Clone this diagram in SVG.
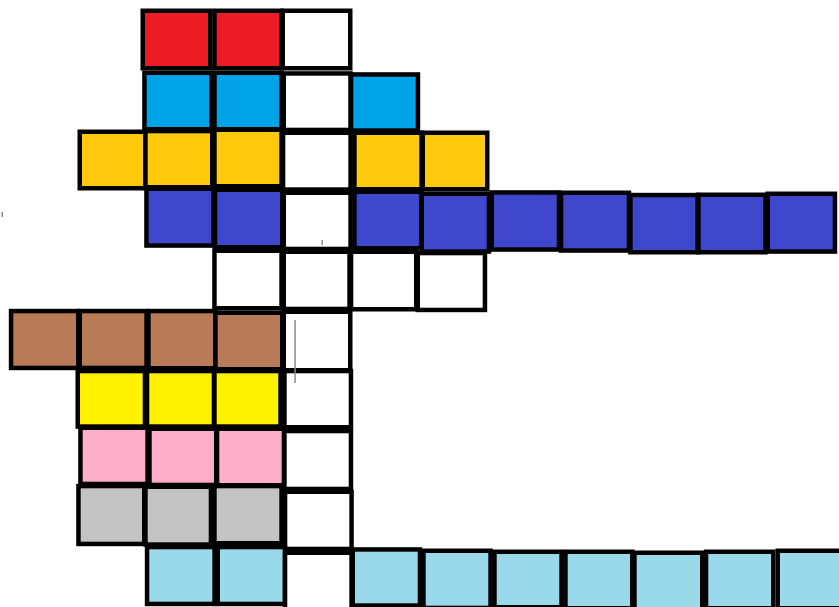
<svg xmlns="http://www.w3.org/2000/svg" width="839" height="607" viewBox="0 0 839 607">
<style>
rect.c{stroke:#000;stroke-width:4.5}
.r{fill:#ED1C24}.b{fill:#00A2E8}.o{fill:#FFC90E}.i{fill:#3F48CC}.w{fill:#FFFFFF}.br{fill:#B97A57}.y{fill:#FFF200}.p{fill:#FFAEC9}.g{fill:#C3C3C3}.lb{fill:#99D9EA}
.mark{fill:#8a8a8a}
</style>
<rect width="839" height="607" fill="#fff"/>
<g id="row1">
<g id="r1c1"><rect class="c r" x="142.75" y="10.75" width="67.5" height="57.5"/></g>
<g id="r1c2"><rect class="c r" x="214.45" y="10.75" width="66.8" height="57.5"/></g>
<g id="r1c3"><rect class="c w" x="282.75" y="10.75" width="67.5" height="57.5"/></g>
</g>
<g id="row2">
<g id="r2c1"><rect class="c b" x="144.45" y="72.75" width="67.1" height="56.5"/></g>
<g id="r2c2"><rect class="c b" x="214.45" y="72.75" width="67.1" height="56.5"/></g>
<g id="r2c3"><rect class="c w" x="283.75" y="73.45" width="66.8" height="56.5"/></g>
<g id="r2c4"><rect class="c b" x="351.05" y="74.45" width="66.9" height="56.1"/></g>
</g>
<g id="row3">
<g id="r3c1"><rect class="c o" x="79.75" y="131.75" width="65.8" height="56.5"/></g>
<g id="r3c2"><rect class="c o" x="145.45" y="131.05" width="66.8" height="56.2"/></g>
<g id="r3c3"><rect class="c o" x="214.45" y="129.75" width="67.1" height="56.5"/></g>
<g id="r3c4"><rect class="c w" x="283.05" y="132.75" width="67.5" height="56.8"/></g>
<g id="r3c5"><rect class="c o" x="354.45" y="132.75" width="67.1" height="56.5"/></g>
<g id="r3c6"><rect class="c o" x="422.75" y="132.75" width="64.5" height="56.5"/></g>
</g>
<g id="row4">
<g id="r4c1"><rect class="c i" x="146.45" y="188.75" width="67.1" height="56.8"/></g>
<g id="r4c2"><rect class="c i" x="215.05" y="189.75" width="67.2" height="57.5"/></g>
<g id="r4c3"><rect class="c w" x="283.75" y="192.75" width="66.8" height="56.2"/></g>
<g id="r4c4"><rect class="c i" x="354.45" y="191.75" width="67.1" height="56.5"/></g>
<g id="r4c5"><rect class="c i" x="421.75" y="193.75" width="67.2" height="57.8"/></g>
<g id="r4c6"><rect class="c i" x="491.75" y="192.45" width="67.2" height="57.1"/></g>
<g id="r4c7"><rect class="c i" x="561.05" y="192.75" width="67.9" height="57.8"/></g>
<g id="r4c8"><rect class="c i" x="630.45" y="195.05" width="67.1" height="57.2"/></g>
<g id="r4c9"><rect class="c i" x="698.45" y="194.75" width="67.1" height="57.5"/></g>
<g id="r4c10"><rect class="c i" x="767.75" y="193.75" width="67.2" height="57.8"/></g>
</g>
<g id="row5">
<g id="r5c1"><rect class="c w" x="214.45" y="250.75" width="67.1" height="57.5"/></g>
<g id="r5c2"><rect class="c w" x="283.75" y="251.75" width="65.8" height="57.2"/></g>
<g id="r5c3"><rect class="c w" x="351.05" y="251.75" width="65.2" height="57.5"/></g>
<g id="r5c4"><rect class="c w" x="417.75" y="253.05" width="67.2" height="56.9"/></g>
</g>
<g id="row6">
<g id="r6c1"><rect class="c br" x="11.05" y="311.05" width="67.2" height="56.9"/></g>
<g id="r6c2"><rect class="c br" x="79.75" y="311.05" width="66.8" height="56.9"/></g>
<g id="r6c3"><rect class="c br" x="148.45" y="311.05" width="67.1" height="57.2"/></g>
<g id="r6c4"><rect class="c br" x="215.45" y="312.75" width="66.8" height="56.5"/></g>
<g id="r6c5"><rect class="c w" x="283.75" y="311.75" width="66.5" height="58.5"/></g>
</g>
<g id="row7">
<g id="r7c1"><rect class="c y" x="77.75" y="371.05" width="67.2" height="55.5"/></g>
<g id="r7c2"><rect class="c y" x="147.05" y="371.05" width="66.9" height="55.5"/></g>
<g id="r7c3"><rect class="c y" x="214.45" y="371.05" width="66.1" height="55.5"/></g>
<g id="r7c4"><rect class="c w" x="284.45" y="371.05" width="66.5" height="56.2"/></g>
</g>
<g id="row8">
<g id="r8c1"><rect class="c p" x="80.45" y="427.75" width="67.1" height="56.2"/></g>
<g id="r8c2"><rect class="c p" x="149.45" y="428.75" width="66.8" height="56.2"/></g>
<g id="r8c3"><rect class="c p" x="217.05" y="428.75" width="66.9" height="56.5"/></g>
<g id="r8c4"><rect class="c w" x="284.45" y="431.05" width="66.5" height="57.9"/></g>
</g>
<g id="row9">
<g id="r9c1"><rect class="c g" x="78.45" y="486.05" width="65.8" height="57.9"/></g>
<g id="r9c2"><rect class="c g" x="145.45" y="486.75" width="65.5" height="57.8"/></g>
<g id="r9c3"><rect class="c g" x="214.45" y="486.05" width="67.1" height="57.2"/></g>
<g id="r9c4"><rect class="c w" x="285.05" y="491.75" width="66.5" height="57.2"/></g>
</g>
<g id="row10">
<g id="r10c1"><rect class="c lb" x="147.05" y="547.05" width="67.5" height="56.9"/></g>
<g id="r10c2"><rect class="c lb" x="217.75" y="547.05" width="67.2" height="56.9"/></g>
<g id="r10c3"><rect class="c w" x="285.05" y="552.75" width="66.5" height="62"/></g>
<g id="r10c4"><rect class="c lb" x="352.75" y="549.45" width="67.2" height="56.1"/></g>
<g id="r10c5"><rect class="c lb" x="423.45" y="550.75" width="67.1" height="57.2"/></g>
<g id="r10c6"><rect class="c lb" x="494.45" y="551.75" width="67.1" height="55.5"/></g>
<g id="r10c7"><rect class="c lb" x="565.45" y="551.75" width="66.8" height="56.5"/></g>
<g id="r10c8"><rect class="c lb" x="634.45" y="552.75" width="67.8" height="56.8"/></g>
<g id="r10c9"><rect class="c lb" x="706.05" y="551.75" width="67.2" height="56.5"/></g>
<g id="r10c10"><rect class="c lb" x="777.75" y="550.75" width="70" height="57.5"/></g>
</g>
<g id="marks">
<rect class="mark" x="294.3" y="320" width="1.5" height="63"/>
<rect class="mark" x="1.5" y="212" width="1.5" height="5"/>
<rect class="mark" x="321.5" y="240" width="1.5" height="5"/>
</g>
</svg>
